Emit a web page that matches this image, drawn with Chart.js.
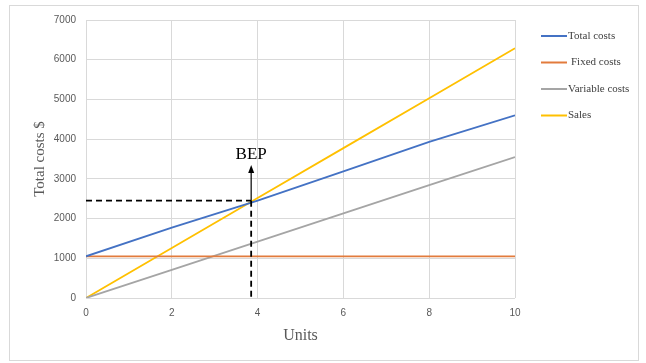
<!DOCTYPE html>
<html>
<head>
<meta charset="utf-8">
<script src="https://cdn.jsdelivr.net/npm/chart.js@4.4.0/dist/chart.umd.min.js"></script>
<style>
  html, body { margin: 0; padding: 0; background: #fff; }
  #wrap { position: relative; width: 646px; height: 363px; }
  #frame { position: absolute; left: 9px; top: 5px; width: 630px; height: 356px; border: 1px solid #d9d9d9; box-sizing: border-box; pointer-events: none; }
</style>
</head>
<body>
<div id="wrap">
  <canvas id="bepChart" width="646" height="363"></canvas>
  <div id="frame"></div>
</div>
<script>
const units = [0, 2, 4, 6, 8, 10];
const totalCosts = [1050, 1770, 2450, 3190, 3930, 4600];
const fixedCosts = [1050, 1050, 1050, 1050, 1050, 1050];
const variableCosts = [0, 710, 1420, 2130, 2840, 3550];
const sales = [0, 1258, 2516, 3774, 5032, 6290];
const xTicks = [0, 2, 4, 6, 8, 10];
const yTicks = [0, 1000, 2000, 3000, 4000, 5000, 6000, 7000];
const bepUnits = 3.85;
const bepValue = 2450;
const bepArrowTop = 3300;

function points(ys) {
    return units.map((u, i) => ({ x: u, y: ys[i] }));
}

// dashed guides, arrow, BEP label and the legend
const bepPlugin = {
    id: 'bep',
    afterDatasetsDraw(chart) {
        const { ctx, scales: { x, y } } = chart;
        const px = x.getPixelForValue(bepUnits);
        const py = y.getPixelForValue(bepValue);
        ctx.save();
        ctx.strokeStyle = '#000';
        ctx.lineWidth = 1.8;
        ctx.setLineDash([6, 4]);
        ctx.beginPath();
        ctx.moveTo(x.getPixelForValue(0), py);
        ctx.lineTo(px, py);
        ctx.moveTo(px, py);
        ctx.lineTo(px, y.getPixelForValue(0) + 2);
        ctx.stroke();

        ctx.setLineDash([]);
        ctx.lineWidth = 1.2;
        const top = y.getPixelForValue(bepArrowTop);
        ctx.beginPath();
        ctx.moveTo(px, py);
        ctx.lineTo(px, top + 4);
        ctx.stroke();
        ctx.fillStyle = '#000';
        ctx.beginPath();
        ctx.moveTo(px, top - 2);
        ctx.lineTo(px - 3, top + 6);
        ctx.lineTo(px + 3, top + 6);
        ctx.closePath();
        ctx.fill();

        ctx.font = '17px "Liberation Serif"';
        ctx.textAlign = 'center';
        ctx.textBaseline = 'middle';
        ctx.fillText('BEP', px, top - 12);

        ctx.font = '11px "Liberation Serif"';
        ctx.textAlign = 'left';
        chart.data.datasets.forEach((ds, i) => {
            const ly = 36 + i * 26.5;
            ctx.strokeStyle = ds.borderColor;
            ctx.lineWidth = 2;
            ctx.beginPath();
            ctx.moveTo(541, ly);
            ctx.lineTo(567, ly);
            ctx.stroke();
            ctx.fillStyle = '#404040';
            ctx.fillText(ds.label, i === 1 ? 571 : 568, ly);
        });
        ctx.restore();
    }
};

const chart = new Chart(document.getElementById('bepChart'), {
    type: 'scatter',
    data: {
        datasets: [
            { label: 'Total costs', data: points(totalCosts), borderColor: '#4472C4' },
            { label: 'Fixed costs', data: points(fixedCosts), borderColor: '#E27B3C' },
            { label: 'Variable costs', data: points(variableCosts), borderColor: '#A5A5A5' },
            { label: 'Sales', data: points(sales), borderColor: '#FFC000' }
        ].map(ds => Object.assign(ds, {
            showLine: true,
            borderWidth: 1.8,
            pointRadius: 0,
            pointHoverRadius: 0,
            backgroundColor: ds.borderColor
        }))
    },
    options: {
        responsive: false,
        animation: false,
        layout: { padding: { left: 27, right: 131, top: 20, bottom: 14 } },
        plugins: {
            legend: { display: false },
            tooltip: { enabled: false }
        },
        scales: {
            x: {
                type: 'linear',
                min: 0,
                max: 10,
                afterBuildTicks(scale) { scale.ticks = xTicks.map(v => ({ value: v })); },
                afterFit(scale) { scale.height = 51; },
                grid: { color: '#d9d9d9', drawTicks: false },
                border: { display: false },
                ticks: {
                    padding: 9, color: '#595959',
                    font: { family: 'Liberation Sans', size: 10 },
                    callback: v => String(v)
                },
                title: {
                    display: true,
                    text: 'Units',
                    color: '#595959',
                    padding: { top: 6 },
                    font: { family: 'Liberation Serif', size: 16 }
                }
            },
            y: {
                min: 0,
                max: 7000,
                afterBuildTicks(scale) { scale.ticks = yTicks.map(v => ({ value: v })); },
                afterFit(scale) { scale.width = 59; },
                grid: { color: '#d9d9d9', drawTicks: false },
                border: { display: false },
                ticks: {
                    padding: 10, color: '#595959',
                    font: { family: 'Liberation Sans', size: 10 },
                    callback: v => String(v)
                },
                title: {
                    display: true,
                    text: 'Total costs $',
                    color: '#595959',
                    padding: { bottom: 0 },
                    font: { family: 'Liberation Serif', size: 15 }
                }
            }
        }
    },
    plugins: [bepPlugin]
});
</script>
</body>
</html>
